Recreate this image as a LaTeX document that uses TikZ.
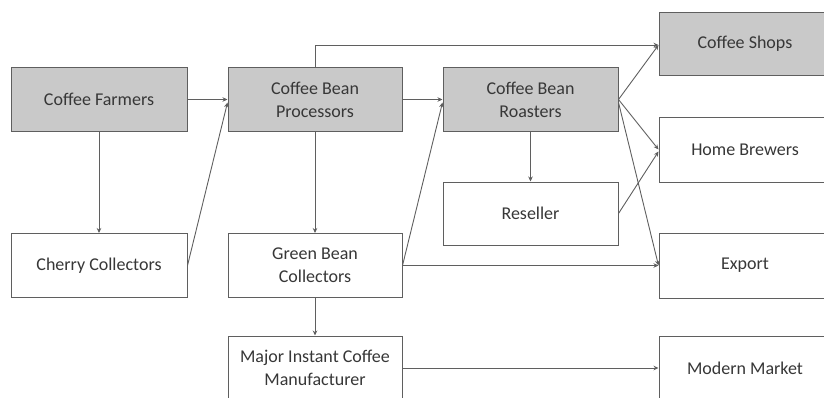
\documentclass[tikz,border=0pt]{standalone}
\usepackage{fontspec}
\setmainfont{Carlito}
\usepackage{tikz}
\usetikzlibrary{arrows.meta}
\usetikzlibrary{positioning}
\usetikzlibrary{calc}

\definecolor{boxgray}{RGB}{201,201,201}
\definecolor{linegray}{RGB}{95,95,95}
\definecolor{textgray}{RGB}{55,55,55}

\begin{document}
\begin{tikzpicture}[x=1pt, y=-1pt,
    every node/.style={rectangle, draw=linegray, line width=1pt, text=textgray, align=center,
      minimum width=174pt, minimum height=64pt, font=\fontsize{18}{23}\selectfont},
    shaded/.style={fill=boxgray},
    plain/.style={fill=white},
    link/.style={draw=linegray, line width=0.9pt, -{Stealth[length=5pt, width=4.5pt, fill=black]}}]
        % Fix the picture size and cut the boxes at the right and bottom edge
        \useasboundingbox (0,0) rectangle (824,397);
        \clip (0,0) rectangle (824,397);

        % First column
        \node[shaded, minimum width=176pt] (farm) at (99, 99.5) {Coffee Farmers};
        \node[plain, minimum width=176pt] (cherry) at (99, 265.5) {Cherry Collectors};

        % Second column
        \node[shaded] (proc) at (315, 99.5) {Coffee Bean\\Processors};
        \node[plain] (green) at (315, 265.5) {Green Bean\\Collectors};
        \node[plain] (major) at (315, 368) {Major Instant Coffee\\Manufacturer};

        % Third column
        \node[shaded, minimum width=175pt] (roast) at (530.5, 99.5) {Coffee Bean\\Roasters};
        \node[plain, minimum width=175pt, minimum height=63pt] (resell) at (530.5, 213.5) {Reseller};

        % Last column (runs past the right edge)
        \node[shaded, minimum width=172pt, minimum height=63pt] (shops) at (745, 43.5) {Coffee Shops};
        \node[plain, minimum width=172pt, minimum height=65pt] (brewers) at (745, 149.5) {Home Brewers};
        \node[plain, minimum width=172pt, minimum height=65pt] (export) at (745, 265.5) {Export};
        \node[plain, minimum width=172pt] (market) at (745, 368) {Modern Market};

        % Connectors
        \draw[link] (farm) -- (proc);
        \draw[link] (farm) -- (cherry);
        \draw[link] (cherry.east) -- ([yshift=-3pt]proc.west);
        \draw[link] (proc) -- (green);
        \draw[link] (proc.north) |- ([yshift=-1.5pt]shops.west);
        \draw[link] (proc) -- (roast);
        \draw[link] (green.east) -- ([yshift=-3pt]roast.west);
        \draw[link] (green.east) -- (export.west);
        \draw[link] (green) -- (major);
        \draw[link] (major.east) -- (market.west);
        \draw[link] (roast) -- (resell);
        \draw[link] (roast.east) -- ([yshift=-1.5pt]shops.west);
        \draw[link] (roast.east) -- (brewers.west);
        \draw[link] ([yshift=-3pt]roast.east) -- (export.west);
        \draw[link] (resell.east) -- ([yshift=-2pt]brewers.west);
      \end{tikzpicture}
\end{document}
